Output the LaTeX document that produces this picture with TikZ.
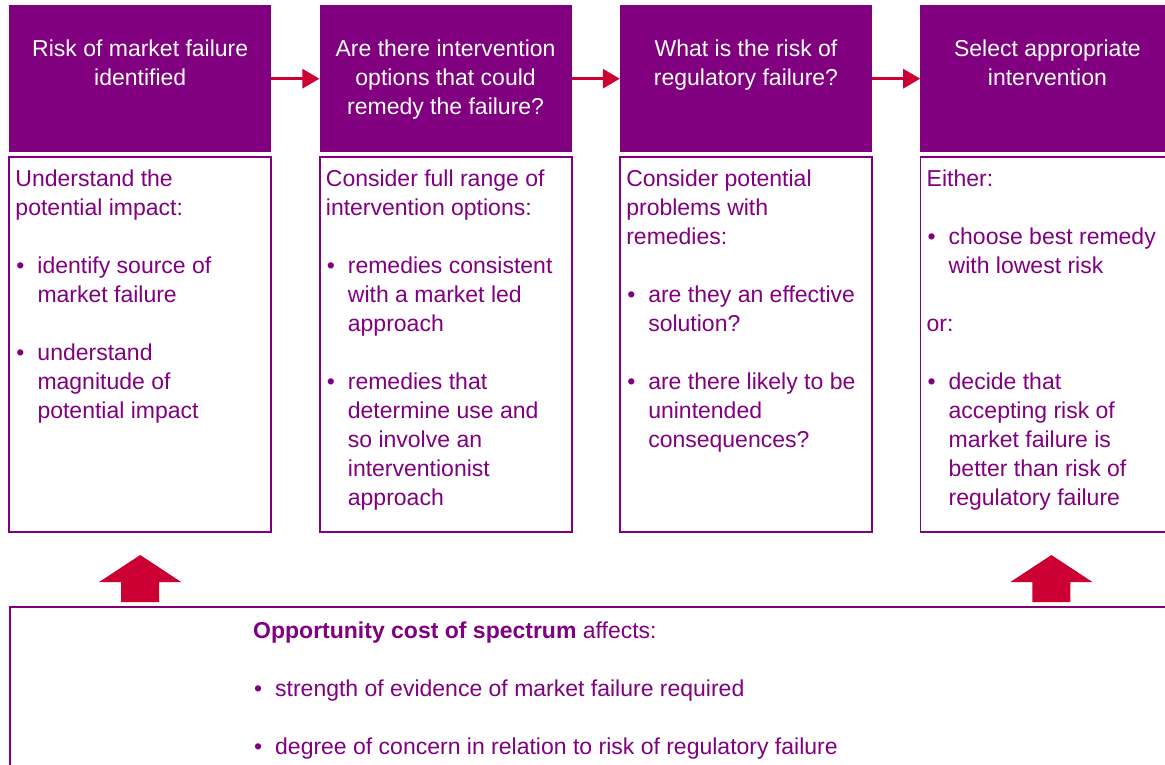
\documentclass[tikz,border=0pt]{standalone}
\usepackage{fontspec}
\setmainfont{Liberation Sans}
\usepackage{tikz}
\usetikzlibrary{arrows.meta, positioning}
\definecolor{ofpurple}{RGB}{128,0,128}
\definecolor{ofred}{RGB}{204,0,51}
\tikzstyle{header} = [rectangle, fill=ofpurple, anchor=north west,
    minimum height=147pt, inner sep=0pt]
\tikzstyle{body} = [rectangle, draw=ofpurple, line width=1.8pt, anchor=north west,
    minimum height=375pt, inner sep=0pt]
\tikzstyle{title} = [text=white, align=center, inner sep=0pt,
    font=\fontsize{23}{29}\selectfont]
\tikzstyle{note} = [text=ofpurple, align=left, inner sep=0pt,
    font=\fontsize{23}{29}\selectfont]
\tikzstyle{line} = [draw=ofred, line width=3pt, -{Triangle[length=17pt, width=19pt]}]
\newcommand{\bitem}{\makebox[22pt][l]{\hspace{1pt}\textbullet}}
\newcommand{\bcont}{\hspace*{22pt}}

\begin{document}
\begin{tikzpicture}[x=1pt, y=-1pt, node distance=48pt,
    colA/.style={minimum width=262pt},
    colB/.style={minimum width=252pt}
    ]
    \clip (0,0) rectangle (1165,764);
    % Headers
    \node [header, colA] (head1) at (9,5) {};
    \node [header, colB, right=48pt of head1] (head2) {};
    \node [header, colB, right=48pt of head2] (head3) {};
    \node [header, minimum width=254pt, right=48pt of head3] (head4) {};

    \node [title, below=35pt of head1.north] (title1) {Risk of market failure\\identified};
    \node [title, below=35pt of head2.north] (title2) {Are there intervention\\options that could\\remedy the failure?};
    \node [title, below=35pt of head3.north] (title3) {What is the risk of\\regulatory failure?};
    \node [title, below=35pt of head4.north] (title4) {Select appropriate\\intervention};

    % Bodies
    \node [body, colA, below=4pt of head1] (body1) {};
    \node [body, colB, below=4pt of head2] (body2) {};
    \node [body, colB, below=4pt of head3] (body3) {};
    \node [body, minimum width=254pt, below=4pt of head4] (body4) {};

    \node [note, below right=13pt and 7pt of body1.north west] (note1) {Understand the\\potential impact:\\[29pt]
        \bitem identify source of\\ \bcont market failure\\[29pt]
        \bitem understand\\ \bcont magnitude of\\ \bcont potential impact};
    \node [note, below right=13pt and 7pt of body2.north west] (note2) {Consider full range of\\intervention options:\\[29pt]
        \bitem remedies consistent\\ \bcont with a market led\\ \bcont approach\\[29pt]
        \bitem remedies that\\ \bcont determine use and\\ \bcont so involve an\\ \bcont interventionist\\ \bcont approach};
    \node [note, below right=13pt and 7pt of body3.north west] (note3) {Consider potential\\problems with\\remedies:\\[29pt]
        \bitem are they an effective\\ \bcont solution?\\[29pt]
        \bitem are there likely to be\\ \bcont unintended\\ \bcont consequences?};
    \node [note, below right=13pt and 7pt of body4.north west] (note4) {Either:\\[29pt]
        \bitem choose best remedy\\ \bcont with lowest risk\\[29pt]
        or:\\[29pt]
        \bitem decide that\\ \bcont accepting risk of\\ \bcont market failure is\\ \bcont better than risk of\\ \bcont regulatory failure};

    % Bottom
    \node [body, minimum width=1170pt, minimum height=170pt] (bottom) at (9,606) {};
    \node [note, below right=16pt and 244pt of bottom.north west] (cost) {\textbf{Opportunity cost of spectrum} affects:\\[29pt]
        \bitem strength of evidence of market failure required\\[29pt]
        \bitem degree of concern in relation to risk of regulatory failure};

    % Edges
    \path [line] (head1) -- (head2);
    \path [line] (head2) -- (head3);
    \path [line] (head3) -- (head4);

    \coordinate (up1) at ([yshift=4pt]bottom.north -| body1.south);
    \coordinate (up4) at ([xshift=4pt, yshift=4pt]bottom.north -| body4.south);
    \foreach \a in {up1, up4}
        \fill [ofred] (\a) ++(-19,0) -- ++(0,-20) -- ++(-22,0) -- ++(41,-27)
            -- ++(41,27) -- ++(-22,0) -- ++(0,20) -- cycle;
\end{tikzpicture}
\end{document}
